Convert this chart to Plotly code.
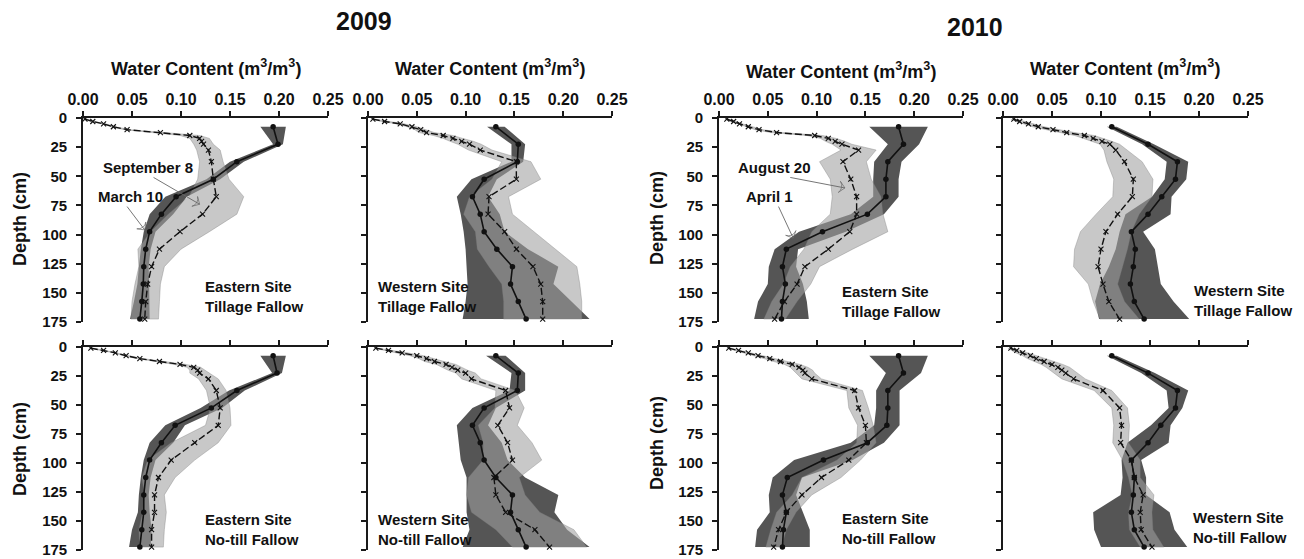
import plotly.graph_objects as go

# ---------------- data ----------------
depth_early = [7.5, 22.5, 37.5, 52.5, 67.5, 82.5, 97.5, 112.5, 127.5, 142.5, 157.5, 172.5]
depth_late = [1, 3, 5, 7.5, 10, 12.5, 15, 17.5, 20, 22.5, 27.5, 37.5, 52.5, 67.5,
              82.5, 97.5, 112.5, 127.5, 142.5, 157.5, 172.5]
x_ticks = [0.00, 0.05, 0.10, 0.15, 0.20, 0.25]
y_ticks = [0, 25, 50, 75, 100, 125, 150, 175]

# 2009 Eastern Site, Tillage Fallow (March 10 = early, September 8 = late)
e09_till_early = [0.194, 0.199, 0.157, 0.133, 0.095, 0.080, 0.068, 0.064, 0.062, 0.0615, 0.060, 0.058]
e09_till_early_sd = [0.013, 0.005, 0.007, 0.007, 0.011, 0.012, 0.006, 0.005, 0.005, 0.006, 0.008, 0.010]
e09_till_late = [0.002, 0.010, 0.021, 0.031, 0.045, 0.079, 0.109, 0.119, 0.121, 0.123, 0.128, 0.131,
                 0.133, 0.136, 0.122, 0.099, 0.078, 0.070, 0.066, 0.064, 0.063]
e09_till_late_sd = [0.002, 0.002, 0.002, 0.002, 0.003, 0.005, 0.010, 0.010, 0.010, 0.010, 0.012, 0.012,
                    0.016, 0.028, 0.035, 0.030, 0.022, 0.013, 0.013, 0.014, 0.014]

# 2009 Western Site, Tillage Fallow
w09_till_early = [0.131, 0.154, 0.153, 0.119, 0.107, 0.115, 0.119, 0.132, 0.148, 0.146, 0.154, 0.162]
w09_till_early_sd = [0.009, 0.007, 0.006, 0.013, 0.016, 0.020, 0.021, 0.032, 0.047, 0.044, 0.054, 0.065]
w09_till_late = [0.005, 0.017, 0.033, 0.045, 0.054, 0.060, 0.077, 0.087, 0.096, 0.104, 0.115, 0.152,
                 0.152, 0.124, 0.123, 0.140, 0.152, 0.169, 0.177, 0.179, 0.179]
w09_till_late_sd = [0.002, 0.003, 0.004, 0.005, 0.006, 0.008, 0.010, 0.010, 0.012, 0.012, 0.012, 0.015,
                    0.025, 0.020, 0.025, 0.030, 0.040, 0.045, 0.040, 0.040, 0.040]

# 2009 Eastern Site, No-till Fallow
e09_nt_early = [0.194, 0.198, 0.157, 0.131, 0.094, 0.080, 0.068, 0.064, 0.062, 0.062, 0.060, 0.058]
e09_nt_early_sd = [0.013, 0.005, 0.008, 0.011, 0.010, 0.012, 0.006, 0.005, 0.005, 0.006, 0.010, 0.011]
e09_nt_late = [0.008, 0.021, 0.033, 0.044, 0.058, 0.078, 0.099, 0.113, 0.117, 0.119, 0.128, 0.136,
               0.140, 0.138, 0.114, 0.090, 0.077, 0.073, 0.073, 0.070, 0.070]
e09_nt_late_sd = [0.002, 0.002, 0.002, 0.003, 0.003, 0.004, 0.006, 0.007, 0.008, 0.010, 0.010, 0.010,
                  0.010, 0.013, 0.024, 0.024, 0.017, 0.010, 0.012, 0.013, 0.012]

# 2009 Western Site, No-till Fallow
w09_nt_early = [0.131, 0.154, 0.153, 0.119, 0.107, 0.115, 0.119, 0.131, 0.148, 0.146, 0.154, 0.162]
w09_nt_early_sd = [0.010, 0.007, 0.008, 0.012, 0.016, 0.022, 0.024, 0.030, 0.047, 0.045, 0.050, 0.065]
w09_nt_late = [0.008, 0.021, 0.035, 0.050, 0.060, 0.068, 0.080, 0.086, 0.092, 0.100, 0.106, 0.141,
               0.145, 0.133, 0.143, 0.148, 0.129, 0.131, 0.141, 0.171, 0.186]
w09_nt_late_sd = [0.002, 0.003, 0.005, 0.007, 0.008, 0.010, 0.010, 0.010, 0.010, 0.010, 0.010, 0.010,
                  0.015, 0.020, 0.025, 0.030, 0.026, 0.030, 0.035, 0.040, 0.038]

# 2010 Eastern Site, Tillage Fallow (April 1 = early, August 20 = late)
e10_till_early = [0.184, 0.189, 0.173, 0.171, 0.171, 0.152, 0.106, 0.069, 0.065, 0.068, 0.065, 0.064]
e10_till_early_sd = [0.030, 0.016, 0.014, 0.013, 0.013, 0.017, 0.024, 0.012, 0.014, 0.018, 0.025, 0.028]
e10_till_late = [0.008, 0.015, 0.021, 0.030, 0.041, 0.059, 0.098, 0.112, 0.119, 0.126, 0.143, 0.127,
                 0.135, 0.141, 0.141, 0.134, 0.112, 0.088, 0.080, 0.067, 0.057]
e10_till_late_sd = [0.002, 0.002, 0.003, 0.003, 0.004, 0.006, 0.008, 0.008, 0.010, 0.010, 0.018, 0.024,
                    0.021, 0.025, 0.027, 0.039, 0.025, 0.015, 0.014, 0.013, 0.011]

# 2010 Western Site, Tillage Fallow
w10_till_early = [0.111, 0.148, 0.178, 0.176, 0.162, 0.148, 0.131, 0.135, 0.133, 0.130, 0.134, 0.144]
w10_till_early_sd = [0.005, 0.006, 0.011, 0.011, 0.010, 0.023, 0.012, 0.020, 0.025, 0.031, 0.040, 0.046]
w10_till_late = [0.011, 0.017, 0.026, 0.036, 0.051, 0.065, 0.083, 0.092, 0.101, 0.109, 0.115, 0.124,
                 0.133, 0.132, 0.117, 0.105, 0.100, 0.097, 0.102, 0.108, 0.119]
w10_till_late_sd = [0.003, 0.004, 0.005, 0.006, 0.007, 0.008, 0.010, 0.010, 0.010, 0.010, 0.012, 0.018,
                    0.020, 0.020, 0.022, 0.026, 0.027, 0.025, 0.015, 0.016, 0.020]

# 2010 Eastern Site, No-till Fallow
e10_nt_early = [0.184, 0.189, 0.173, 0.173, 0.172, 0.152, 0.107, 0.070, 0.065, 0.069, 0.066, 0.065]
e10_nt_early_sd = [0.030, 0.018, 0.012, 0.012, 0.013, 0.017, 0.030, 0.015, 0.014, 0.017, 0.027, 0.028]
e10_nt_late = [0.010, 0.020, 0.030, 0.040, 0.052, 0.063, 0.075, 0.082, 0.086, 0.088, 0.095, 0.139,
               0.143, 0.150, 0.151, 0.133, 0.105, 0.085, 0.069, 0.061, 0.056]
e10_nt_late_sd = [0.002, 0.003, 0.004, 0.005, 0.006, 0.007, 0.008, 0.009, 0.010, 0.010, 0.010, 0.008,
                  0.010, 0.008, 0.010, 0.012, 0.020, 0.010, 0.010, 0.008, 0.008]

# 2010 Western Site, No-till Fallow
w10_nt_early = [0.111, 0.148, 0.178, 0.176, 0.161, 0.148, 0.131, 0.134, 0.133, 0.131, 0.134, 0.144]
w10_nt_early_sd = [0.005, 0.007, 0.011, 0.007, 0.010, 0.021, 0.010, 0.012, 0.013, 0.039, 0.041, 0.044]
w10_nt_late = [0.008, 0.014, 0.020, 0.028, 0.034, 0.042, 0.050, 0.056, 0.060, 0.064, 0.072, 0.102,
               0.119, 0.121, 0.120, 0.131, 0.134, 0.143, 0.140, 0.141, 0.152]
w10_nt_late_sd = [0.003, 0.005, 0.007, 0.008, 0.009, 0.010, 0.011, 0.012, 0.012, 0.012, 0.012, 0.009,
                  0.008, 0.008, 0.008, 0.009, 0.006, 0.011, 0.012, 0.012, 0.012]

panel_labels = ["Eastern Site<br>Tillage Fallow", "Western Site<br>Tillage Fallow",
                "Eastern Site<br>Tillage Fallow", "Western Site<br>Tillage Fallow",
                "Eastern Site<br>No-till Fallow", "Western Site<br>No-till Fallow",
                "Eastern Site<br>No-till Fallow", "Western Site<br>No-till Fallow"]
years = ["2009", "2010"]
x_title = "Water Content (m<sup>3</sup>/m<sup>3</sup>)"
y_title = "Depth (cm)"

# date call-outs: label, label anchor (px), arrow head (x, depth), arrow tail (x, depth), panel
callouts = [
    ("September 8", (101, 168), (0.119, 74), (0.072, 51), 0),
    ("March 10", (96, 196), (0.063, 96), (0.045, 76), 0),
    ("August 20", (736, 168), (0.129, 60), (0.073, 51), 2),
    ("April 1", (744, 196), (0.076, 103), (0.061, 76), 2),
]

# ---------------- layout geometry ----------------
# the page body has an 8 px margin: figure positions below are given in
# window pixels and shifted into figure pixels.
OFF = 8
W, H = 1304 - OFF, 559 - OFF
col_px = [(83, 328), (368, 612), (719, 963), (1003, 1248)]
row_px = [(118, 322), (347, 550)]


def px(x):
    return (x - OFF) / W


def py(y):
    return 1 - (y - OFF) / H


panels = [
    (e09_till_early, e09_till_early_sd, e09_till_late, e09_till_late_sd),
    (w09_till_early, w09_till_early_sd, w09_till_late, w09_till_late_sd),
    (e10_till_early, e10_till_early_sd, e10_till_late, e10_till_late_sd),
    (w10_till_early, w10_till_early_sd, w10_till_late, w10_till_late_sd),
    (e09_nt_early, e09_nt_early_sd, e09_nt_late, e09_nt_late_sd),
    (w09_nt_early, w09_nt_early_sd, w09_nt_late, w09_nt_late_sd),
    (e10_nt_early, e10_nt_early_sd, e10_nt_late, e10_nt_late_sd),
    (w10_nt_early, w10_nt_early_sd, w10_nt_late, w10_nt_late_sd),
]

FONT = "Liberation Sans, Arial, Helvetica, sans-serif"
DARK = "#555555"
LIGHT = "rgba(160,160,160,0.58)"
AXC = "#1a1a1a"


def axn(i):
    return "" if i == 0 else str(i + 1)


fig = go.Figure()
layout = dict(template="none", width=W, height=H, margin=dict(l=0, r=0, t=0, b=0, pad=0),
              paper_bgcolor="white", plot_bgcolor="rgba(0,0,0,0)",
              showlegend=False, font=dict(family=FONT, color="#111"))

for i, (em, esd, lm, lsd) in enumerate(panels):
    r, c = divmod(i, 4)
    n = axn(i)
    xa, ya = "x" + n, "y" + n
    # dark band (early date)
    lo = [m - s for m, s in zip(em, esd)]
    hi = [m + s for m, s in zip(em, esd)]
    fig.add_trace(go.Scatter(x=lo + hi[::-1], y=depth_early + depth_early[::-1],
                             fill="toself", fillcolor=DARK, mode="lines",
                             line=dict(width=0, color=DARK), xaxis=xa, yaxis=ya,
                             hoverinfo="skip"))
    # light band (late date)
    lo2 = [m - s for m, s in zip(lm, lsd)]
    hi2 = [m + s for m, s in zip(lm, lsd)]
    fig.add_trace(go.Scatter(x=lo2 + hi2[::-1], y=depth_late + depth_late[::-1],
                             fill="toself", fillcolor=LIGHT, mode="lines",
                             line=dict(width=0.6, color="rgba(120,120,120,0.6)"),
                             xaxis=xa, yaxis=ya, hoverinfo="skip"))
    # early mean: solid with dots
    fig.add_trace(go.Scatter(x=em, y=depth_early, mode="lines+markers",
                             line=dict(color="#111", width=1.6),
                             marker=dict(symbol="circle", size=5.5, color="#111"),
                             xaxis=xa, yaxis=ya, cliponaxis=False, hoverinfo="skip"))
    # late mean: dashed with crosses
    fig.add_trace(go.Scatter(x=lm, y=depth_late, mode="lines+markers",
                             line=dict(color="#111", width=1.4, dash="7px,3px"),
                             marker=dict(symbol="x-thin-open", size=5,
                                         line=dict(width=1.1, color="#111")),
                             xaxis=xa, yaxis=ya, cliponaxis=False, hoverinfo="skip"))

    x0, x1 = col_px[c]
    y0, y1 = row_px[r]
    layout["xaxis" + n] = dict(
        domain=[px(x0), px(x1)], anchor=ya, side="top", range=[0, 0.25],
        tickvals=x_ticks, tickformat=".2f", ticks="outside", ticklen=5, tickwidth=1.5,
        tickcolor=AXC, showline=True, linecolor=AXC, linewidth=1.6, automargin=False,
        showgrid=False, zeroline=False, showticklabels=(r == 0),
        tickfont=dict(family=FONT, size=16, color="#111", weight="bold"))
    layout["yaxis" + n] = dict(
        domain=[py(y1), py(y0)], anchor=xa, range=[175, 0], automargin=False,
        tickvals=y_ticks, ticks="outside", ticklen=5, tickwidth=1.5, tickcolor=AXC,
        showline=True, linecolor=AXC, linewidth=1.6, showgrid=False, zeroline=False,
        showticklabels=(c in (0, 2)), ticklabelstandoff=6,
        tickfont=dict(family=FONT, size=15, color="#111", weight="bold"))

# arrows of the call-outs, drawn as thin lines with an open arrow tip
for label, _, head, tail, p in callouts:
    n = axn(p)
    fig.add_trace(go.Scatter(x=[tail[0], head[0]], y=[tail[1], head[1]], mode="lines+markers",
                             line=dict(color="#666", width=0.9),
                             marker=dict(symbol=["circle", "arrow-wide-open"], size=[0, 8],
                                         angleref="previous", color="#666",
                                         line=dict(width=1, color="#666")),
                             xaxis="x" + n, yaxis="y" + n, cliponaxis=False, hoverinfo="skip"))

annotations = []
# site labels
label_pos = [(203, 296.5), (376, 296.5), (840, 301), (1192, 300),
             (203, 529.5), (376, 529.5), (840, 528), (1191, 527)]
for (lx, ly), txt in zip(label_pos, panel_labels):
    annotations.append(dict(x=px(lx), y=py(ly), xref="paper", yref="paper",
                            xanchor="left", yanchor="middle", align="left",
                            text="<b>" + txt + "</b>", showarrow=False,
                            font=dict(family=FONT, size=15, color="#111")))
# water content titles
for cx, cy in [(206, 67), (490, 67), (841, 70), (1125, 67)]:
    annotations.append(dict(x=px(cx), y=py(cy), xref="paper", yref="paper",
                            xanchor="center", yanchor="middle",
                            text="<b>" + x_title + "</b>", showarrow=False,
                            font=dict(family=FONT, size=18, color="#111")))
# year titles
for (cx, cy), yr in zip([(364, 21), (975, 27)], years):
    annotations.append(dict(x=px(cx), y=py(cy), xref="paper", yref="paper",
                            xanchor="center", yanchor="middle",
                            text="<b>" + yr + "</b>", showarrow=False,
                            font=dict(family=FONT, size=25, color="#111")))
# depth titles
for cx, cy in [(20, 219), (20, 449), (657, 218), (657, 443)]:
    annotations.append(dict(x=px(cx), y=py(cy), xref="paper", yref="paper",
                            xanchor="center", yanchor="middle", textangle=-90,
                            text="<b>" + y_title + "</b>", showarrow=False,
                            font=dict(family=FONT, size=18, color="#111")))
# date labels
for label, (lx, ly), _, _, _ in callouts:
    annotations.append(dict(x=px(lx), y=py(ly), xref="paper", yref="paper",
                            xanchor="left", yanchor="middle",
                            text="<b>" + label + "</b>", showarrow=False,
                            font=dict(family=FONT, size=15, color="#111")))
layout["annotations"] = annotations

fig.update_layout(**layout)
fig.write_html("out.html")
